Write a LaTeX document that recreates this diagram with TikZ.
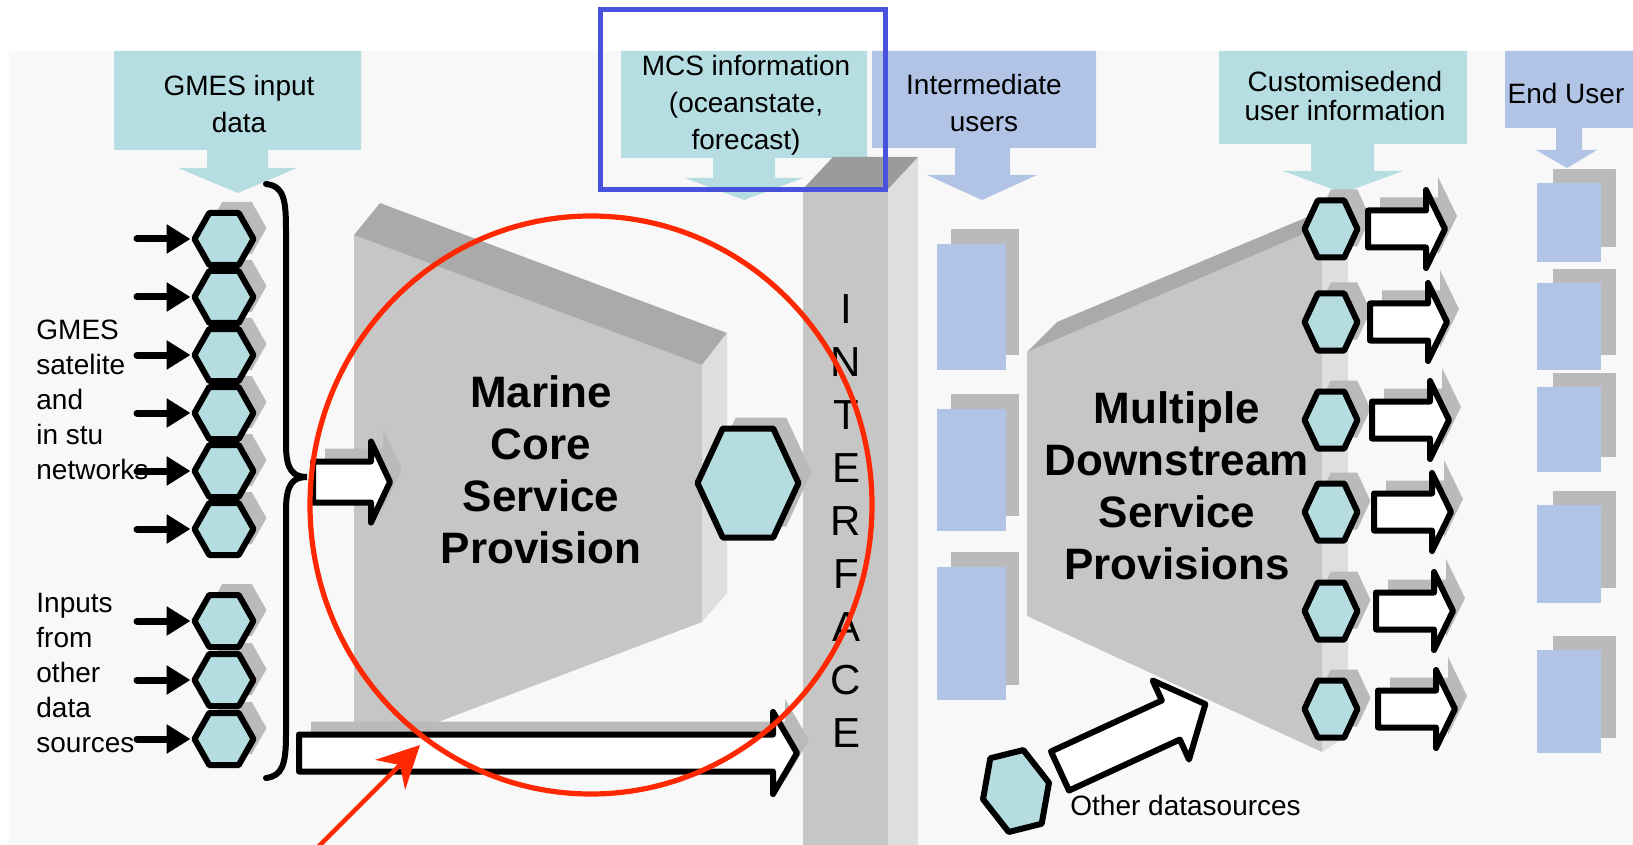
\documentclass[tikz,border=0pt]{standalone}
\usepackage{fontspec}
\setmainfont{Liberation Sans}
\usetikzlibrary{arrows.meta}
\definecolor{hexfill}{RGB}{180,220,225}
\definecolor{banner}{RGB}{182,221,226}
\definecolor{lavender}{RGB}{177,196,230}
\definecolor{face}{RGB}{198,198,198}
\definecolor{bevel}{RGB}{170,170,170}
\definecolor{side}{RGB}{222,222,222}
\definecolor{ifacetop}{RGB}{155,155,155}
\definecolor{shadowgrey}{RGB}{186,186,186}
\definecolor{paper}{RGB}{248,248,248}
\definecolor{markred}{RGB}{255,40,0}
\definecolor{markblue}{RGB}{72,82,220}

\begin{document}
\begin{tikzpicture}[x=0.5pt,y=-0.5pt]
    \tikzset{%
      hexline/.style={draw=black, line width=3pt, line join=round, fill=hexfill},
      arrline/.style={draw=black, line width=3pt, line join=round, fill=white},
      shadow/.style={fill=shadowgrey},
      feed/.style={line width=3.5pt, line cap=round,
        -{Triangle[length=12pt,width=14pt]}, shorten >=2pt},
      bannertext/.style={inner sep=0pt, align=center, anchor=base,
        font=\fontsize{14pt}{18.5pt}\selectfont},
      sidetext/.style={inner sep=0pt, align=left, anchor=base west,
        font=\fontsize{14pt}{17.5pt}\selectfont},
      bigtext/.style={inner sep=0pt, align=center,
        font=\bfseries\fontsize{22pt}{26pt}\selectfont},
      iftext/.style={inner sep=0pt, font=\fontsize{21pt}{21pt}\selectfont},
      pics/hexa/.style 2 args={code={
        \draw[hexline] (-#1,0) -- (-#1/2,-#2) -- (#1/2,-#2) -- (#1,0)
          -- (#1/2,#2) -- (-#1/2,#2) -- cycle;
        \coordinate (-w) at (-#1,0);
      }},
      pics/hexshade/.style 2 args={code={
        \fill[shadow] (-#1+13,-11) -- (-#1/2+13,-#2-11) -- (#1/2+13,-#2-11)
          -- (#1+13,-11) -- (#1/2+13,#2-11) -- (-#1/2+13,#2-11) -- cycle;
      }},
      pics/barrow/.style n args={4}{code={
        \draw[arrline] (0,-#3) -- (#1,-#3) -- (#1,-#4) -- (#1+#2,0)
          -- (#1,#4) -- (#1,#3) -- (0,#3) -- cycle;
        \coordinate (-tip) at (#1+#2,0);
      }},
      pics/barrowshade/.style n args={4}{code={
        \fill[shadow] (12,-#3-13) -- (#1+12,-#3-13) -- (#1+12,-#4-13)
          -- (#1+#2+12,-13) -- (#1+12,#4-13) -- (#1+12,#3-13)
          -- (12,#3-13) -- cycle;
      }},
    }
    \useasboundingbox (0,0) rectangle (1633,845);
    \fill[white] (0,0) rectangle (1633,845);
    \fill[paper] (9,51) rectangle (1633,845);

    % banners at the top
    \foreach \c/\xa/\xb/\yb/\sl/\sr/\ys/\hl/\hr/\tx/\ty in
      {banner/114/361/150/207/268/168/178/297/238/193,
       banner/621/867/158/713/775/178/685/803/744/200,
       lavender/872/1096/148/955/1010/175/927/1037/982/200,
       banner/1219/1467/144/1311/1374/171/1283/1403/1343/193,
       lavender/1505/1633/128/1556/1582/150/1536/1597/1567/168}
      \fill[\c] (\xa,51) -- (\xb,51) -- (\xb,\yb) -- (\sr,\yb) -- (\sr,\ys)
        -- (\hr,\ys) -- (\tx,\ty) -- (\hl,\ys) -- (\sl,\ys) -- (\sl,\yb)
        -- (\xa,\yb) -- cycle;

    % marine core block
    \fill[face] (354,235) -- (702,365) -- (702,622) -- (430,725) -- (354,725) -- cycle;
    \fill[bevel] (354,235) -- (380,203) -- (727,333) -- (702,365) -- cycle;
    \fill[side] (702,365) -- (727,333) -- (727,593) -- (702,622) -- cycle;

    % downstream block
    \fill[face] (1027,352) -- (1322,226) -- (1322,752) -- (1027,616) -- cycle;
    \fill[bevel] (1027,352) -- (1057,322) -- (1348,200) -- (1322,226) -- cycle;
    \fill[side] (1322,226) -- (1348,200) -- (1348,735) -- (1322,752) -- cycle;

    % interface column
    \fill[face] (803,189) rectangle (888,845);
    \fill[side] (888,189) -- (918,157) -- (918,845) -- (888,845) -- cycle;
    \fill[ifacetop] (803,189) -- (833,157) -- (918,157) -- (888,189) -- cycle;
    \foreach \l [count=\i from 0] in {I,N,T,E,R,F,A,C,E}
      \node[iftext] (if\i) at (846,{309+53*\i}) {\l};

    % user boxes
    \foreach \ya/\yb in {244/370,409/531,567/700} {
      \fill[shadowgrey] (951,\ya-15) rectangle (1019,\yb-15);
      \fill[lavender] (937,\ya) rectangle (1006,\yb);
    }
    \foreach \ya/\yb in {183/262,283/370,387/472,505/603,650/753} {
      \fill[shadowgrey] (1553,\ya-14) rectangle (1616,\yb-15);
      \fill[lavender] (1537,\ya) rectangle (1601,\yb);
    }

    % labels (base = last line)
    \node[bannertext] (gmesin) at (239,133) {GMES input\\data};
    \node[bannertext] (mcsinfo) at (746,150) {MCS information\\(oceanstate,\\forecast)};
    \node[bannertext] (interm) at (984,132) {Intermediate\\users};
    \node[bannertext, font=\fontsize{14pt}{14.5pt}\selectfont] (custinfo) at (1345,121)
      {Customisedend\\user information};
    \node[bannertext] (enduser) at (1566,104) {End User};
    \node[sidetext] (satnet) at (36,479) {GMES\\satelite\\and\\in stu\\networks};
    \node[sidetext] (otherin) at (36,752) {Inputs\\from\\other\\data\\sources};
    \node[bigtext] (mcs) at (541,470) {Marine\\Core\\Service\\Provision};
    \node[bigtext] (dsp) at (1177,486) {Multiple\\Downstream\\Service\\Provisions};
    \node[sidetext] (othsrc) at (1070,815) {Other datasources};

    % shadows
    \foreach \y in {239,297,355,413,471,529,621,680,739}
      \pic at (224,\y) {hexshade={29.5}{26}};
    \foreach \y [count=\i from 0] in {229,322,420,512,611,709} {
      \pic at (1331,\y) {hexshade={26.5}{28.5}};
      \pic at ({1368+2*\i},\y) {barrowshade={58}{19}{18.5}{39}};
    }
    \pic at (748,483) {hexshade={50.5}{54.5}};
    \pic at (313,482) {barrowshade={58}{19}{20.5}{40.5}};
    \pic at (299,753) {barrowshade={474}{24}{18.5}{41}};

    % input hexagons
    \foreach \y [count=\i] in {239,297,355,413,471,529,621,680,739} {
      \pic (gl\i) at (224,\y) {hexa={29.5}{26}};
      \coordinate (fs\i) at (137,\y);
      \draw[feed] (fs\i) -- (gl\i-w);
    }
    \draw[line width=3pt, line cap=round] (266,184) .. controls (284,186) and (286,200) .. (286,230)
      -- (286,445) .. controls (286,470) and (293,477) .. (307,477)
      .. controls (293,477) and (286,484) .. (286,510) -- (286,735)
      .. controls (286,765) and (282,776) .. (266,778);
    \pic (brarr) at (313,482) {barrow={58}{19}{20.5}{40.5}};
    \pic (longarr) at (299,753) {barrow={474}{24}{18.5}{41}};
    \pic (mcshex) at (748,483) {hexa={50.5}{54.5}};

    % downstream outputs
    \foreach \y [count=\i from 0] in {229,322,420,512,611,709} {
      \pic (dh\i) at (1331,\y) {hexa={26.5}{28.5}};
      \pic (da\i) at ({1368+2*\i},\y) {barrow={58}{19}{18.5}{39}};
    }
    \pic[rotate=14] (othhex) at (1016,791) {hexa={34}{38}};
    \pic[rotate=24.7] (otharr) at (1060,771) {barrow={122}{38}{21.5}{43.5}};

    % marks
    \draw[markred, line width=2.6pt] (591,505) ellipse [x radius=140.5pt, y radius=144.5pt];
    \coordinate (redtail) at (318,847);
    \coordinate (redtip) at (420,745);
    \draw[markred, line width=2.2pt, -{Stealth[length=21pt,width=21pt]}] (redtail) -- (redtip);
    \draw[markblue, line width=2.5pt] (600.5,9.5) rectangle (885.5,189.5);
\end{tikzpicture}
\end{document}
